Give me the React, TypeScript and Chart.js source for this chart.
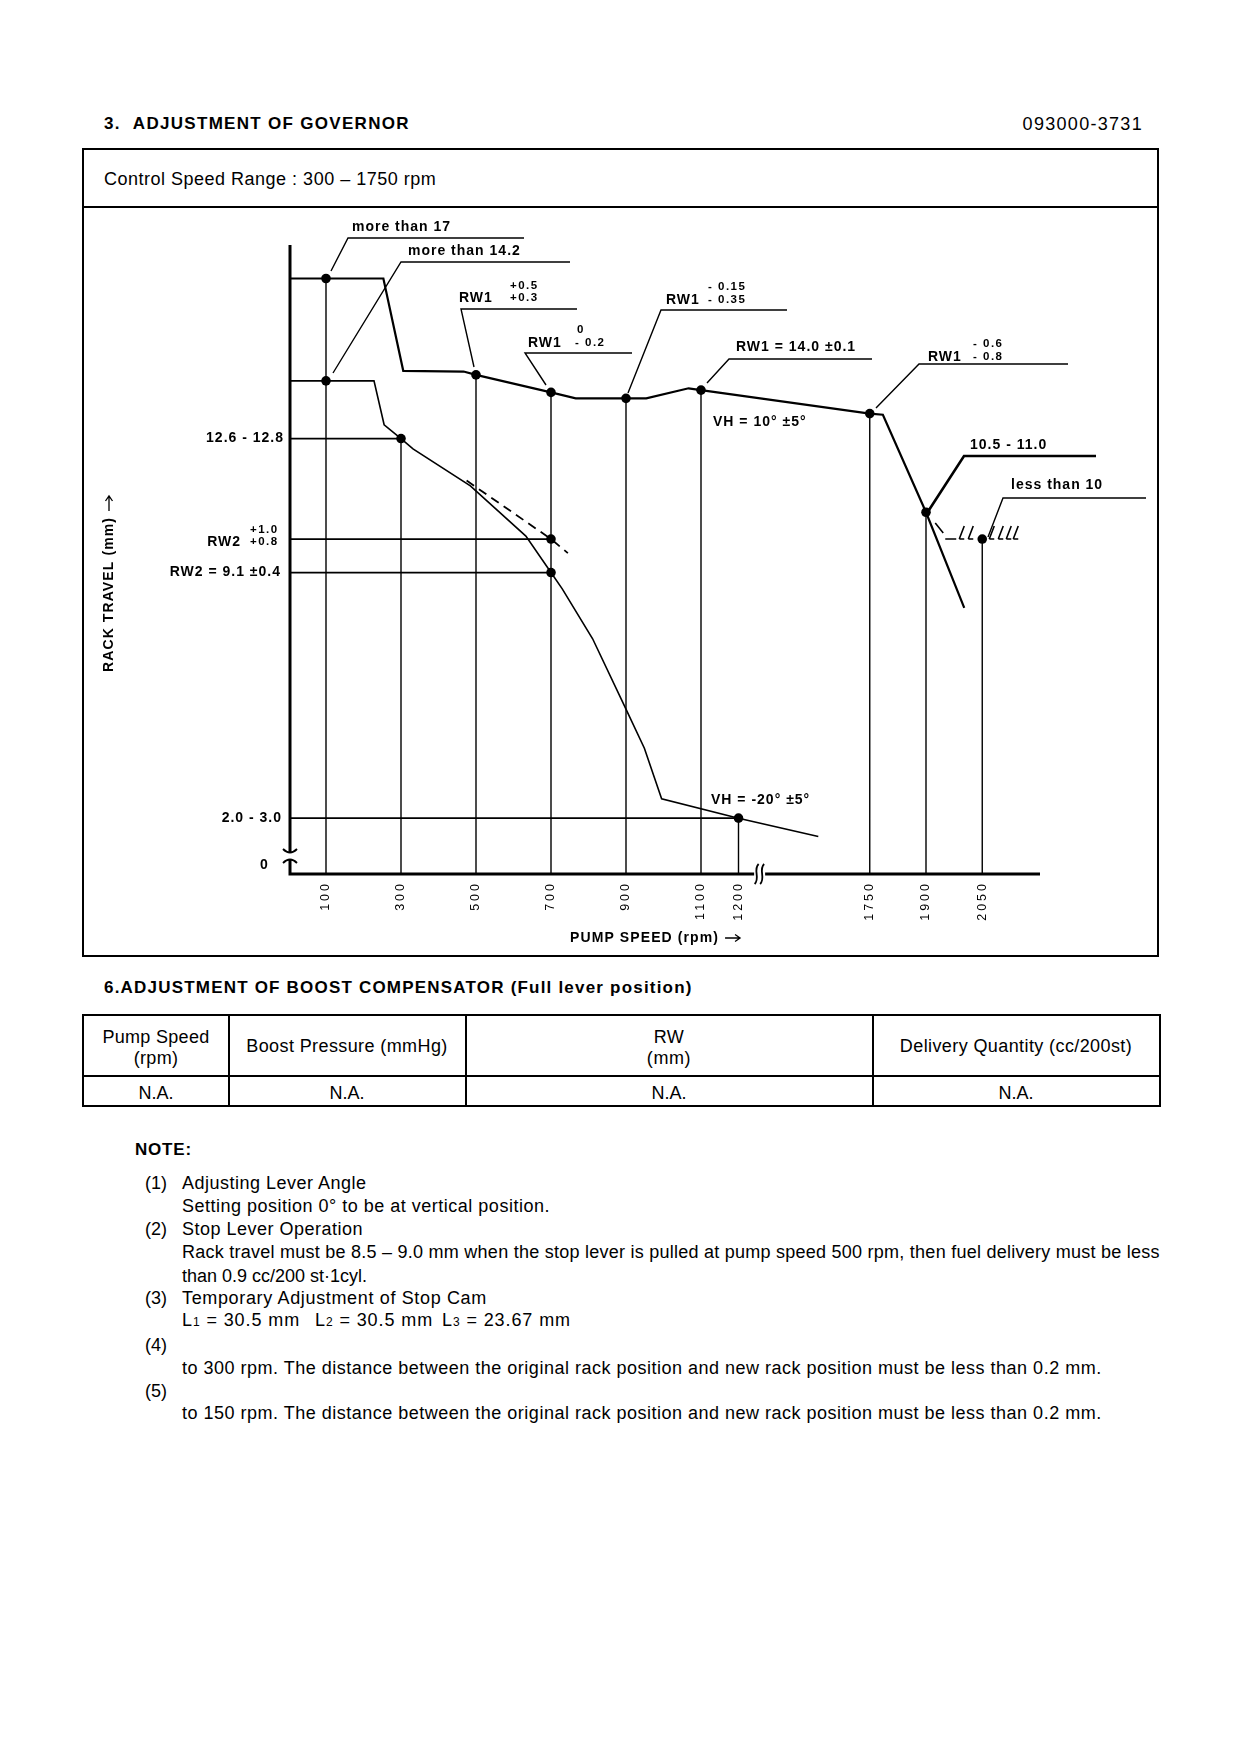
import React, { useEffect, useRef } from "react";
import { Chart, registerables } from "chart.js";

Chart.register(...registerables);

// ---------------- data (pump speed in rpm, rack travel in mm) ----------------
const speedTicks = [100, 300, 500, 700, 900, 1100, 1200, 1750, 1900, 2050];

const fullLoadSpeed = [5, 253, 306, 467, 500, 700, 766, 900, 954, 1067, 1100, 1750, 1785, 1900, 2002];
const fullLoadRack = [17.0, 17.0, 14.52, 14.5, 14.41, 13.94, 13.78, 13.78, 13.78, 14.05, 14.0, 13.37, 13.34, 10.72, 8.15];

const idleSpeed = [5, 228, 255, 300, 332, 485, 633, 700, 730, 811, 899, 949, 995, 1200, 1503];
const idleRack = [14.25, 14.25, 13.07, 12.7, 12.42, 11.43, 10.08, 9.1, 8.66, 7.32, 5.45, 4.38, 3.02, 2.5, 2.01];

const droopSpeed = [475, 700, 745];
const droopRack = [11.57, 10.0, 9.62];

const pointSpeed = [100, 100, 300, 500, 700, 900, 1100, 1750, 1900, 2050, 700, 700, 1200];
const pointRack = [17.0, 14.25, 12.7, 14.41, 13.94, 13.78, 14.0, 13.37, 10.72, 10.0, 10.0, 9.1, 2.5];

const dropSpeed = [100, 300, 500, 700, 900, 1100, 1200, 1750, 1900, 2050];
const dropRack = [17.0, 12.7, 14.41, 13.94, 13.78, 14.0, 2.5, 13.37, 10.72, 10.0];

const levelSpeed = [300, 700, 700, 1200];
const levelRack = [12.7, 10.0, 9.1, 2.5];

const stopSpeed = 2050;
const stopRack = 10.0;

// ---------------- axis setup ----------------
const X_MIN = 4;
const X_MAX = 2004;
const Y_MIN = 1.0;
const Y_MAX = 17.9;
const AXIS_BREAK_RPM = 1255;

// broken speed axis: 1300..1750 rpm compressed, above 1750 shifted by 200
function toAxis(rpm: number): number {
  if (rpm <= 1300) return rpm;
  if (rpm < 1750) return 1300 + ((rpm - 1300) * 250) / 450;
  return rpm - 200;
}

const FONT = '"Liberation Sans", Arial, Helvetica, sans-serif';
const INK = "#000";
const ORIGIN_X = 84;
const ORIGIN_Y = 208;
const CANVAS_W = 1073;
const CANVAS_H = 748;

const pts = (xs: number[], ys: number[]) => xs.map((s, i) => ({ x: toAxis(s), y: ys[i] }));

function dropSegments() {
  const out: any[] = [];
  dropSpeed.forEach((s, i) => {
    out.push({ x: toAxis(s), y: dropRack[i] });
    out.push({ x: toAxis(s), y: Y_MIN });
    out.push({ x: toAxis(s), y: null });
  });
  return out;
}
function levelSegments() {
  const out: any[] = [];
  levelSpeed.forEach((s, i) => {
    out.push({ x: X_MIN, y: levelRack[i] });
    out.push({ x: toAxis(s), y: levelRack[i] });
    out.push({ x: toAxis(s), y: null });
  });
  return out;
}

type Part = { s: string; x: number; y: number; small?: boolean };
type Callout = { parts: Part[]; path?: number[][]; width?: number };

// callout texts and leader lines (page pixel layout)
const callouts: Callout[] = [
  { parts: [{ s: "more than 17", x: 352, y: 227 }], path: [[331, 271], [348, 238], [524, 238]] },
  { parts: [{ s: "more than 14.2", x: 408, y: 251 }], path: [[333, 373], [401, 262], [570, 262]] },
  {
    parts: [
      { s: "RW1", x: 459, y: 298 },
      { s: "+0.5", x: 510, y: 286, small: true },
      { s: "+0.3", x: 510, y: 298, small: true },
    ],
    path: [[474, 367], [461, 309], [577, 309]],
  },
  {
    parts: [
      { s: "RW1", x: 528, y: 343 },
      { s: "0", x: 577, y: 330, small: true },
      { s: "- 0.2", x: 575, y: 343, small: true },
    ],
    path: [[546, 385], [525, 353], [632, 353]],
  },
  {
    parts: [
      { s: "RW1", x: 666, y: 300 },
      { s: "- 0.15", x: 708, y: 287, small: true },
      { s: "- 0.35", x: 708, y: 300, small: true },
    ],
    path: [[628, 393], [661, 310], [787, 310]],
  },
  { parts: [{ s: "RW1 = 14.0 ±0.1", x: 736, y: 347 }], path: [[707, 383], [729, 359], [872, 359]] },
  {
    parts: [
      { s: "RW1", x: 928, y: 357 },
      { s: "- 0.6", x: 973, y: 344, small: true },
      { s: "- 0.8", x: 973, y: 357, small: true },
    ],
    path: [[876, 408], [919, 364], [1068, 364]],
  },
  { parts: [{ s: "VH = 10° ±5°", x: 713, y: 422 }] },
  { parts: [{ s: "10.5 - 11.0", x: 970, y: 445 }], path: [[929, 510], [964, 456], [1096, 456]], width: 2.6 },
  { parts: [{ s: "less than 10", x: 1011, y: 485 }], path: [[988, 537], [1003, 498], [1146, 498]] },
  { parts: [{ s: "VH = -20° ±5°", x: 711, y: 800 }] },
];

const BIG = `bold 14px ${FONT}`;
const SMALL = `bold 11.5px ${FONT}`;

function drawText(ctx: any, s: string, x: number, y: number, font: string, align = "left", spacing = "1px") {
  ctx.font = font;
  ctx.letterSpacing = spacing;
  ctx.textAlign = align;
  ctx.textBaseline = "middle";
  ctx.fillText(s, x, y);
}

// text followed by a long arrow (drawn along the current x direction)
function drawTitleWithArrow(ctx: any, s: string, x: number, y: number) {
  ctx.font = `bold 14px ${FONT}`;
  ctx.letterSpacing = "1.1px";
  ctx.textAlign = "left";
  ctx.textBaseline = "middle";
  ctx.fillText(s, x, y);
  const w = ctx.measureText(s).width;
  const ax = x + w + 6;
  ctx.lineWidth = 1.3;
  ctx.beginPath();
  ctx.moveTo(ax, y);
  ctx.lineTo(ax + 15, y);
  ctx.moveTo(ax + 10, y - 3.5);
  ctx.lineTo(ax + 15, y);
  ctx.lineTo(ax + 10, y + 3.5);
  ctx.stroke();
}

const overlayPlugin = {
  id: "govOverlay",
  afterDatasetsDraw(chart: any) {
    const { ctx, chartArea: a, scales } = chart;
    const xs = scales.x;
    const ys = scales.y;
    const X = (p: number) => p - ORIGIN_X;
    const Y = (p: number) => p - ORIGIN_Y;
    ctx.save();
    ctx.strokeStyle = INK;
    ctx.fillStyle = INK;

    // ---- axes with breaks ----
    const breakX = xs.getPixelForValue(toAxis(AXIS_BREAK_RPM));
    const yBreakTop = a.bottom - 22;
    const yBreakBot = a.bottom - 14;
    ctx.lineWidth = 3;
    ctx.lineJoin = "miter";
    ctx.beginPath();
    ctx.moveTo(a.left, a.top);
    ctx.lineTo(a.left, yBreakTop);
    ctx.moveTo(a.left, yBreakBot);
    ctx.lineTo(a.left, a.bottom);
    ctx.lineTo(breakX - 5, a.bottom);
    ctx.moveTo(breakX + 6, a.bottom);
    ctx.lineTo(a.right, a.bottom);
    ctx.stroke();

    ctx.lineWidth = 1.8;
    ctx.beginPath();
    ctx.moveTo(a.left - 7, yBreakTop - 3);
    ctx.quadraticCurveTo(a.left, yBreakTop + 4, a.left + 7, yBreakTop - 3);
    ctx.moveTo(a.left - 7, yBreakBot + 3);
    ctx.quadraticCurveTo(a.left, yBreakBot - 4, a.left + 7, yBreakBot + 3);
    ctx.stroke();
    for (const dx of [-2.5, 3]) {
      const bx = breakX + dx;
      ctx.beginPath();
      ctx.moveTo(bx - 2, a.bottom + 10);
      ctx.bezierCurveTo(bx + 4, a.bottom + 4, bx - 4, a.bottom - 4, bx + 2, a.bottom - 10);
      ctx.stroke();
    }

    // ---- rack travel labels ----
    const py = (v: number) => ys.getPixelForValue(v);
    drawText(ctx, "12.6 - 12.8", X(284), py(12.7), BIG, "right");
    drawText(ctx, "RW2", X(241), py(10.0) + 3, BIG, "right");
    drawText(ctx, "+1.0", X(250), py(10.0) - 9, SMALL, "left", "1.5px");
    drawText(ctx, "+0.8", X(250), py(10.0) + 3, SMALL, "left", "1.5px");
    drawText(ctx, "RW2 = 9.1 ±0.4", X(281), py(9.1), BIG, "right");
    drawText(ctx, "2.0 - 3.0", X(282), py(2.5), BIG, "right");
    drawText(ctx, "0", X(264), a.bottom - 9, BIG, "center", "0px");

    // ---- speed tick labels (rotated) ----
    ctx.font = `12.5px ${FONT}`;
    ctx.letterSpacing = "3px";
    ctx.textAlign = "right";
    ctx.textBaseline = "middle";
    for (const s of speedTicks) {
      const x = xs.getPixelForValue(toAxis(s));
      ctx.save();
      ctx.translate(x, a.bottom + 7);
      ctx.rotate(-Math.PI / 2);
      ctx.fillText(String(s), 0, 0);
      ctx.restore();
    }

    // ---- axis titles ----
    drawTitleWithArrow(ctx, "PUMP SPEED (rpm)", X(570), Y(938));
    ctx.save();
    ctx.translate(X(109), Y(672));
    ctx.rotate(-Math.PI / 2);
    drawTitleWithArrow(ctx, "RACK TRAVEL (mm)", 0, 0);
    ctx.restore();

    // ---- callouts ----
    for (const c of callouts) {
      if (c.path) {
        ctx.lineWidth = c.width || 1.4;
        ctx.beginPath();
        c.path.forEach(([px, pyy], i) => (i === 0 ? ctx.moveTo(X(px), Y(pyy)) : ctx.lineTo(X(px), Y(pyy))));
        ctx.stroke();
      }
      for (const p of c.parts) {
        drawText(ctx, p.s, X(p.x), Y(p.y), p.small ? SMALL : BIG, "left", p.small ? "1.5px" : "1px");
      }
    }

    // ---- stop (hatched) symbol at full-speed cut-off ----
    const sx = xs.getPixelForValue(toAxis(stopSpeed));
    const sy = ys.getPixelForValue(stopRack);
    ctx.lineWidth = 1.6;
    ctx.beginPath();
    ctx.moveTo(sx - 47, sy - 16);
    ctx.lineTo(sx - 39, sy - 6);
    ctx.moveTo(sx - 37, sy);
    ctx.lineTo(sx - 26, sy);
    for (const off of [-23, -14, 7, 16, 24, 31]) {
      ctx.moveTo(sx + off, sy);
      ctx.lineTo(sx + off + 5, sy - 13);
      ctx.moveTo(sx + off, sy);
      ctx.lineTo(sx + off + 5, sy);
    }
    ctx.stroke();

    ctx.restore();
  },
};

export default function App() {
  const ref = useRef<HTMLCanvasElement | null>(null);

  useEffect(() => {
    if (!ref.current) return;
    const chart = new Chart(ref.current, {
      type: "scatter",
      data: {
        datasets: [
          {
            data: pts(pointSpeed, pointRack),
            showLine: false,
            pointRadius: 4.8,
            pointBackgroundColor: INK,
            pointBorderWidth: 0,
            order: 0,
          },
          {
            data: pts(fullLoadSpeed, fullLoadRack),
            showLine: true,
            borderColor: INK,
            borderWidth: 2.2,
            pointRadius: 0,
            order: 1,
          },
          {
            data: pts(idleSpeed, idleRack),
            showLine: true,
            borderColor: INK,
            borderWidth: 1.6,
            pointRadius: 0,
            order: 1,
          },
          {
            data: pts(droopSpeed, droopRack),
            showLine: true,
            borderColor: INK,
            borderWidth: 1.8,
            borderDash: [9, 6],
            pointRadius: 0,
            order: 1,
          },
          {
            data: dropSegments(),
            showLine: true,
            spanGaps: false,
            borderColor: INK,
            borderWidth: 1.4,
            pointRadius: 0,
            order: 2,
          },
          {
            data: levelSegments(),
            showLine: true,
            spanGaps: false,
            borderColor: INK,
            borderWidth: 1.8,
            pointRadius: 0,
            order: 2,
          },
        ],
      },
      options: {
        animation: false,
        responsive: false,
        maintainAspectRatio: false,
        events: [],
        layout: { padding: { left: 206, right: 117, top: 37, bottom: 82 } },
        plugins: {
          legend: { display: false },
          tooltip: { enabled: false },
          title: { display: false },
        },
        scales: {
          x: { type: "linear", min: X_MIN, max: X_MAX, display: false },
          y: { type: "linear", min: Y_MIN, max: Y_MAX, display: false },
        },
      },
      plugins: [overlayPlugin],
    } as any);
    return () => chart.destroy();
  }, []);

  const T = (props: {
    x: number;
    y: number;
    size?: number;
    bold?: boolean;
    align?: "left" | "center" | "right";
    spacing?: number;
    children: React.ReactNode;
  }) => {
    const { x, y, size = 18, bold = false, align = "left", spacing = 0, children } = props;
    const tx = align === "left" ? "0" : align === "center" ? "-50%" : "-100%";
    return (
      <div
        style={{
          position: "absolute",
          left: x,
          top: y,
          transform: `translate(${tx}, -50%)`,
          fontSize: size,
          lineHeight: `${Math.round(size * 1.2)}px`,
          fontWeight: bold ? 700 : 400,
          letterSpacing: spacing,
          whiteSpace: "nowrap",
        }}
      >
        {children}
      </div>
    );
  };

  const hLine = (x1: number, x2: number, y: number, w = 2) => (
    <div style={{ position: "absolute", left: x1, top: y - w / 2, width: x2 - x1, height: w, background: INK }} />
  );
  const vLine = (x: number, y1: number, y2: number, w = 2) => (
    <div style={{ position: "absolute", left: x - w / 2, top: y1, width: w, height: y2 - y1, background: INK }} />
  );

  const sub = (d: string) => <span style={{ fontSize: 12 }}>{d}</span>;
  const NS = 0.5; // note letter spacing

  return (
    <div
      style={{
        position: "absolute",
        left: 0,
        top: 0,
        width: 1240,
        height: 1754,
        background: "#fff",
        fontFamily: FONT,
        color: INK,
        overflow: "hidden",
      }}
    >
      <T x={104} y={124} size={17} bold spacing={1.3}>3.&nbsp;&nbsp;ADJUSTMENT OF GOVERNOR</T>
      <T x={1143} y={124} size={18} align="right" spacing={1.3}>093000-3731</T>

      {/* chart frame */}
      {hLine(82, 1159, 149)}
      {hLine(82, 1159, 207)}
      {hLine(82, 1159, 956)}
      {vLine(83, 148, 957)}
      {vLine(1158, 148, 957)}
      <T x={104} y={179} size={18} spacing={0.5}>Control Speed Range : 300 – 1750 rpm</T>

      <canvas
        ref={ref}
        width={CANVAS_W}
        height={CANVAS_H}
        style={{ position: "absolute", left: ORIGIN_X, top: ORIGIN_Y, width: CANVAS_W, height: CANVAS_H }}
      />

      <T x={104} y={988} size={17} bold spacing={1.2}>6.ADJUSTMENT OF BOOST COMPENSATOR (Full lever position)</T>

      {/* boost compensator table */}
      {hLine(82, 1161, 1015)}
      {hLine(82, 1161, 1076)}
      {hLine(82, 1161, 1106)}
      {vLine(83, 1014, 1107)}
      {vLine(229, 1014, 1107)}
      {vLine(466, 1014, 1107)}
      {vLine(873, 1014, 1107)}
      {vLine(1160, 1014, 1107)}
      <T x={156} y={1037} align="center" spacing={0.3}>Pump Speed</T>
      <T x={156} y={1058} align="center" spacing={0.3}>(rpm)</T>
      <T x={347} y={1046} align="center" spacing={0.4}>Boost Pressure (mmHg)</T>
      <T x={669} y={1037} align="center" spacing={0.3}>RW</T>
      <T x={669} y={1058} align="center" spacing={0.6}>(mm)</T>
      <T x={1016} y={1046} align="center" spacing={0.4}>Delivery Quantity (cc/200st)</T>
      <T x={156} y={1093} align="center">N.A.</T>
      <T x={347} y={1093} align="center">N.A.</T>
      <T x={669} y={1093} align="center">N.A.</T>
      <T x={1016} y={1093} align="center">N.A.</T>

      {/* notes */}
      <T x={135} y={1150} size={17} bold spacing={0.8}>NOTE:</T>
      <T x={145} y={1183}>(1)</T>
      <T x={182} y={1183} spacing={NS}>Adjusting Lever Angle</T>
      <T x={182} y={1206} spacing={NS}>Setting position 0° to be at vertical position.</T>
      <T x={145} y={1229}>(2)</T>
      <T x={182} y={1229} spacing={NS}>Stop Lever Operation</T>
      <T x={182} y={1252} spacing={0.25}>
        Rack travel must be 8.5 – 9.0 mm when the stop lever is pulled at pump speed 500 rpm, then fuel delivery must be less
      </T>
      <T x={182} y={1276} spacing={0}>than 0.9 cc/200 st·1cyl.</T>
      <T x={145} y={1298}>(3)</T>
      <T x={182} y={1298} spacing={0.65}>Temporary Adjustment of Stop Cam</T>
      <T x={182} y={1321} spacing={0.9}>L{sub("1")} = 30.5 mm</T>
      <T x={315} y={1321} spacing={0.9}>L{sub("2")} = 30.5 mm</T>
      <T x={442} y={1321} spacing={0.9}>L{sub("3")} = 23.67 mm</T>
      <T x={145} y={1345}>(4)</T>
      <T x={182} y={1368} spacing={NS}>
        to 300 rpm. The distance between the original rack position and new rack position must be less than 0.2 mm.
      </T>
      <T x={145} y={1391}>(5)</T>
      <T x={182} y={1413} spacing={NS}>
        to 150 rpm. The distance between the original rack position and new rack position must be less than 0.2 mm.
      </T>
    </div>
  );
}
